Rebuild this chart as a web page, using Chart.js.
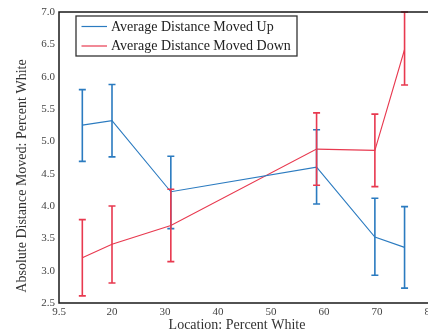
<!DOCTYPE html>
<html>
<head>
<meta charset="utf-8">
<script src="https://cdn.jsdelivr.net/npm/chart.js@4/dist/chart.umd.min.js"></script>
<style>
html,body{margin:0;padding:0;background:#fff;overflow:hidden;width:428px;height:335px;}
#wrap{position:absolute;left:0;top:0;width:440px;height:335px;}
</style>
</head>
<body>
<div id="wrap"><canvas id="c" width="440" height="335"></canvas></div>
<script>
// Data
const xPos = [14.4, 20, 31.1, 58.6, 69.6, 75.2];
const upMean = [5.25, 5.32, 4.22, 4.60, 3.52, 3.36];
const upLow  = [4.69, 4.76, 3.65, 4.03, 2.93, 2.73];
const upHigh = [5.80, 5.88, 4.77, 5.18, 4.12, 3.99];
const downMean = [3.20, 3.41, 3.70, 4.88, 4.86, 6.42];
const downLow  = [2.61, 2.81, 3.14, 4.32, 4.30, 5.87];
const downHigh = [3.79, 4.00, 4.26, 5.44, 5.42, 7.00];
const xTickValues = [10, 20, 30, 40, 50, 60, 70, 80];
const xTickLabels = ['9.5', '20', '30', '40', '50', '60', '70', '80'];
const yTickLabels = ['2.5','3.0','3.5','4.0','4.5','5.0','5.5','6.0','6.5','7.0'];
const seriesLabels = ['Average Distance Moved Up', 'Average Distance Moved Down'];
const xTitle = 'Location: Percent White';
const yTitle = 'Absolute Distance Moved: Percent White';

const BLUE = '#2b7bc0';
const RED = '#e8394f';
const SERIF = '"Liberation Serif", "DejaVu Serif", serif';

const errorBars = {
  id: 'errorBars',
  afterDatasetsDraw(chart) {
    const ctx = chart.ctx;
    const xs = chart.scales.x, ys = chart.scales.y;
    chart.data.datasets.forEach((ds) => {
      ctx.save();
      ctx.strokeStyle = ds.borderColor;
      ctx.lineWidth = 1.6;
      ds.data.forEach((p, i) => {
        const x = xs.getPixelForValue(p.x);
        const yl = ys.getPixelForValue(ds.errLow[i]);
        const yh = ys.getPixelForValue(ds.errHigh[i]);
        ctx.beginPath();
        ctx.moveTo(x, yl); ctx.lineTo(x, yh);
        ctx.moveTo(x - 3.5, yl); ctx.lineTo(x + 3.5, yl);
        ctx.moveTo(x - 3.5, yh); ctx.lineTo(x + 3.5, yh);
        ctx.stroke();
      });
      ctx.restore();
    });
  }
};

const frameAndText = {
  id: 'frameAndText',
  afterDraw(chart) {
    const ctx = chart.ctx;
    const a = chart.chartArea;
    ctx.save();
    // frame
    ctx.strokeStyle = '#1a1a1a';
    ctx.lineWidth = 1.5;
    ctx.beginPath();
    ctx.moveTo(a.left, a.top); ctx.lineTo(a.right, a.top);
    ctx.lineTo(a.right, a.bottom); ctx.lineTo(a.left, a.bottom); ctx.closePath();
    ctx.stroke();
    // legend
    const lx = 76, ly = 16, lw = 221, lh = 40;
    ctx.fillStyle = '#fff';
    ctx.fillRect(lx, ly, lw, lh);
    ctx.strokeStyle = '#333';
    ctx.lineWidth = 1.3;
    ctx.strokeRect(lx, ly, lw, lh);
    ctx.font = '14px ' + SERIF;
    ctx.textBaseline = 'middle';
    ctx.textAlign = 'left';
    chart.data.datasets.forEach((ds, i) => {
      const yy = ly + 10.5 + i * 19.5;
      ctx.strokeStyle = ds.borderColor;
      ctx.lineWidth = 1.2;
      ctx.beginPath(); ctx.moveTo(81.5, yy); ctx.lineTo(107, yy); ctx.stroke();
      ctx.fillStyle = '#222';
      ctx.fillText(ds.label, 111, yy + 0.5);
    });
    // axis titles
    ctx.fillStyle = '#333';
    ctx.font = '14px ' + SERIF;
    ctx.textAlign = 'center';
    ctx.fillText(xTitle, 237, 325);
    ctx.translate(22, 176);
    ctx.rotate(-Math.PI / 2);
    ctx.fillText(yTitle, 0, 0);
    ctx.restore();
  }
};

new Chart(document.getElementById('c'), {
  type: 'line',
  data: {
    datasets: [
      {
        label: seriesLabels[0],
        data: xPos.map((x, i) => ({ x, y: upMean[i] })),
        errLow: upLow, errHigh: upHigh,
        borderColor: BLUE, borderWidth: 1.1, pointRadius: 0, tension: 0, fill: false
      },
      {
        label: seriesLabels[1],
        data: xPos.map((x, i) => ({ x, y: downMean[i] })),
        errLow: downLow, errHigh: downHigh,
        borderColor: RED, borderWidth: 1.1, pointRadius: 0, tension: 0, fill: false
      }
    ]
  },
  options: {
    responsive: false,
    animation: false,
    devicePixelRatio: 1,
    layout: { padding: { left: 0, right: 10, top: 12, bottom: 0 } },
    plugins: { legend: { display: false }, tooltip: { enabled: false } },
    scales: {
      x: {
        type: 'linear', min: 10, max: 80,
        afterBuildTicks(s) { s.ticks = xTickValues.map(v => ({ value: v })); },
        afterFit(s) { s.height = 32; },
        grid: { display: false, drawTicks: false },
        border: { display: false },
        ticks: {
          padding: 3,
          color: '#444',
          font: { family: SERIF, size: 11 },
          maxRotation: 0,
          callback: (v) => { const k = xTickValues.indexOf(v); return k >= 0 ? xTickLabels[k] : ''; }
        }
      },
      y: {
        type: 'linear', min: 2.5, max: 7.0,
        afterBuildTicks(s) { s.ticks = yTickLabels.map(t => ({ value: parseFloat(t) })); },
        afterFit(s) { s.width = 59; },
        grid: { display: false, drawTicks: false },
        border: { display: false },
        ticks: {
          padding: 4,
          color: '#444',
          font: { family: SERIF, size: 11 },
          callback: (v) => { const k = yTickLabels.map(parseFloat).indexOf(v); return k >= 0 ? yTickLabels[k] : ''; }
        }
      }
    }
  },
  plugins: [errorBars, frameAndText]
});
</script>
</body>
</html>
